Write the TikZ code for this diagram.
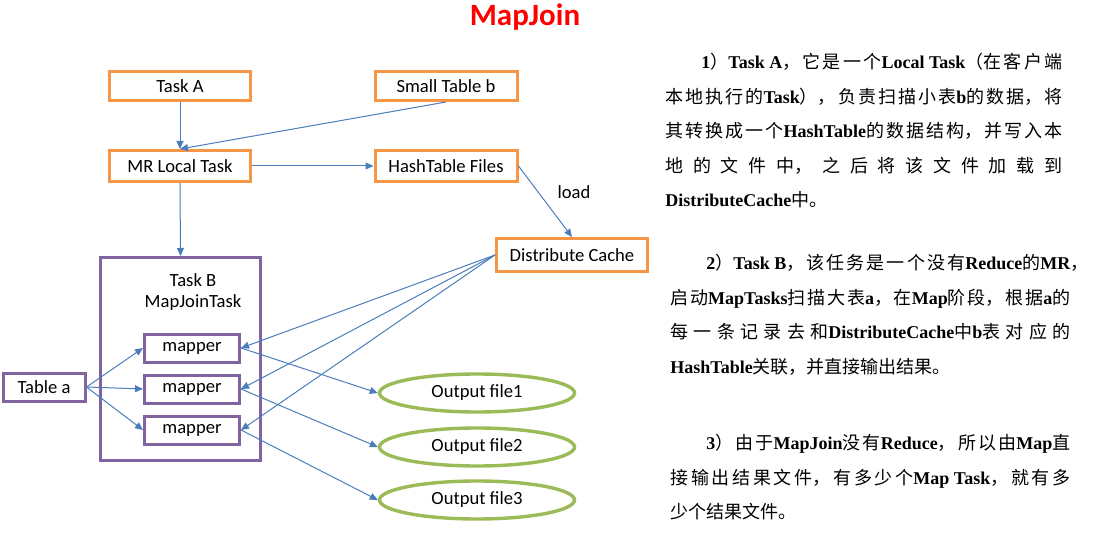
\documentclass[tikz,border=0pt]{standalone}
\usepackage{fontspec}
\usetikzlibrary{shapes.geometric, arrows.meta}
\newfontfamily\cali{Carlito}
\newfontfamily\cjk{Noto Sans CJK SC}
\newfontfamily\serifbold{Liberation Serif}
\newcommand\lat[1]{{\serifbold\bfseries #1}}
\newcommand\cjkpar{\parindent=0pt\XeTeXlinebreaklocale "zh"\XeTeXlinebreakskip=0pt plus 1fil\parfillskip=0pt plus 1fill\hspace*{2em}}
\definecolor{boxorange}{HTML}{F79646}
\definecolor{boxpurple}{HTML}{8064A2}
\definecolor{ellgreen}{HTML}{9BBB59}
\definecolor{linkblue}{HTML}{4A7EBB}

\begin{document}
\begin{tikzpicture}[x=0.5pt,y=-0.5pt,
	every node/.style={font=\cali\fontsize{9.3pt}{10.5pt}\selectfont},
	orangebox/.style={rectangle,draw=boxorange,line width=1.5pt,inner sep=0pt},
	purplebox/.style={rectangle,draw=boxpurple,line width=1.5pt,inner sep=0pt},
	outfile/.style={ellipse,draw=ellgreen,line width=1.7pt,inner sep=0pt,minimum width=97.5pt,minimum height=19pt},
	link/.style={draw=linkblue,line width=0.5pt,-{Triangle[length=4pt,width=3.5pt]}},
	para/.style={anchor=north west,inner sep=0pt,align=justify,
		font=\fontsize{9pt}{17.25pt}\selectfont\cjk}]
	\useasboundingbox (0,0) rectangle (1097,545);

	\node at (525,17) [font=\cali\bfseries\fontsize{15.5pt}{18pt}\selectfont, text=red] (title) {MapJoin};

	% local task side
	\node[rectangle] at (180,86) [orangebox,minimum width=70.5pt,minimum height=14.5pt] (taskA) {Task A};
	\node[rectangle] at (446,86) [orangebox,minimum width=71pt,minimum height=14.5pt] (smallb) {Small Table b};
	\node[rectangle] at (180,166) [orangebox,minimum width=70.5pt,minimum height=15.5pt] (mrlocal) {MR Local Task};
	\node[rectangle] at (446,166) [orangebox,minimum width=71pt,minimum height=15.5pt] (hashfiles) {HashTable Files};
	\node[rectangle] at (572,255) [orangebox,minimum width=75.5pt,minimum height=16.5pt] (dcache) {Distribute Cache};
	\node at (574,192) (loadtext) {load};
	\draw[link] (taskA.south) -- (mrlocal.north);
	\draw[link] (smallb.south) -- (mrlocal.north);
	\draw[link] (mrlocal.east) -- (hashfiles.west);
	\draw[link] (hashfiles.east) -- (dcache.north);

	% map join task
	\node[rectangle] at (180.5,359) [purplebox,minimum width=80pt,minimum height=101.5pt] (taskB) {};
	\node at (193,292) [align=center] (taskBlabel) {Task B\\MapJoinTask};
	\node[rectangle] at (192,348) [purplebox,minimum width=47.5pt,minimum height=14pt] (map1) {mapper};
	\node[rectangle] at (192,389) [purplebox,minimum width=47.5pt,minimum height=14pt] (map2) {mapper};
	\node[rectangle] at (192,430) [purplebox,minimum width=47.5pt,minimum height=14pt] (map3) {mapper};
	\node[rectangle] at (44,387) [purplebox,minimum width=41pt,minimum height=14pt] (tablea) {Table a};
	\draw[link] (mrlocal.south) -- (taskB.north);

	\node at (477,393) [outfile] (out1) {Output file1};
	\node at (477,447) [outfile] (out2) {Output file2};
	\node at (477,500) [outfile] (out3) {Output file3};

	\foreach \i in {1,2,3} {
		\draw[link] (tablea.east) -- (map\i.west);
		\draw[link] (dcache.west) -- (map\i.east);
		\draw[link] (map\i.east) -- (out\i.west);
	}

	% notes
	\node[para,text width=198.5pt] at (665,53) (note1) {\cjkpar\lat{1}）\lat{Task A}，它是一个\lat{Local Task}（在客户端\break 本地执行的\lat{Task}），负责扫描小表\lat{b}的数据，将\break 其转换成一个\lat{HashTable}的数据结构，并写入本\break 地的文件中，之后将该文件加载到\break \lat{DistributeCache}中。\par};
	\node[para,text width=200pt] at (670,254) (note2) {\cjkpar\lat{2}）\lat{Task B}，该任务是一个没有\lat{Reduce}的\lat{MR}\rlap{，}\break 启动\lat{MapTasks}扫描大表\lat{a}，在\lat{Map}阶段，根据\lat{a}的\break 每一条记录去和\lat{DistributeCache}中\lat{b}表对应的\break \lat{HashTable}关联，并直接输出结果。\par};
	\node[para,text width=200pt] at (670,434) (note3) {\cjkpar\lat{3}）由于\lat{MapJoin}没有\lat{Reduce}，所以由\lat{Map}直\break 接输出结果文件，有多少个\lat{Map Task}，就有多\break 少个结果文件。\par};
\end{tikzpicture}
\end{document}
